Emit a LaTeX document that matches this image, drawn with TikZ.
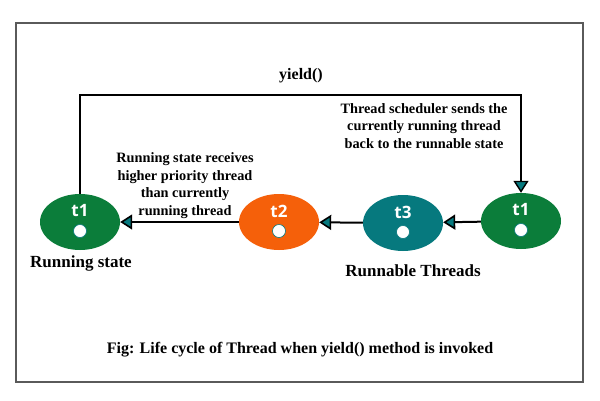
\documentclass[tikz,border=0pt]{standalone}
\usepackage{fontspec}
\setmainfont{Liberation Serif}
\newfontfamily\tfont{Open Sans}
\usetikzlibrary{arrows.meta,shapes.geometric}

\definecolor{MGreen}{HTML}{0B7D3A}
\definecolor{MOrange}{HTML}{F5600A}
\definecolor{MTeal}{HTML}{06797E}
\definecolor{MFrame}{HTML}{5A5A5A}

\begin{document}
\begin{tikzpicture}[x=1pt,y=-1pt,
		thread/.style={ellipse,minimum width=80pt,minimum height=56pt,inner sep=0pt,draw=none},
		tname/.style={text=white,font=\tfont\bfseries\fontsize{17}{17}\selectfont,inner sep=0pt},
		tdot/.style={circle,fill=white,draw=MTeal,line width=0.6pt,minimum size=13pt,inner sep=0pt},
		note/.style={align=center,font=\bfseries\fontsize{14.3}{17.5}\selectfont,inner sep=0pt},
		caption/.style={font=\bfseries\fontsize{17}{18}\selectfont,inner sep=0pt},
		move/.style={line width=2pt,-{Triangle[fill=MTeal,length=12pt,width=15pt,line width=1.6pt]}}]
			\useasboundingbox (0,0) rectangle (600,400);
			\draw[MFrame, line width=2pt] (16,23) rectangle (583,382);
			
			\node[thread, fill=MGreen] (run) at (80,222) {};
			\node[tname] (run-t) at ([yshift=11pt]run.center) {t1};
			\node[tdot] (run-dot) at ([yshift=-9pt]run.center) {};
			
			\node[thread, fill=MOrange] (q2) at (279,222) {};
			\node[tname] (q2-t) at ([yshift=11pt]q2.center) {t2};
			\node[tdot] (q2-dot) at ([yshift=-9pt]q2.center) {};
			
			\node[thread, fill=MTeal] (q3) at (403,223) {};
			\node[tname] (q3-t) at ([yshift=11pt]q3.center) {t3};
			\node[tdot] (q3-dot) at ([yshift=-9pt]q3.center) {};
			
			\node[thread, fill=MGreen] (q1) at (521,221) {};
			\node[tname] (q1-t) at ([yshift=11pt]q1.center) {t1};
			\node[tdot] (q1-dot) at ([yshift=-9pt]q1.center) {};
			
			\draw[move] (q1) -- (q3);
			\draw[move] (q3) -- (q2);
			\draw[move] (q2) -- (run);
			
			\coordinate (ytop) at (300,95);
			\draw[line width=1.5pt, -{Triangle[fill=MTeal,length=12pt,width=15pt,line width=1.4pt]}] (run.north) |- (ytop) -| (q1.north);
			
			\node[note, font=\bfseries\fontsize{16}{18}\selectfont] (yield) at (301,76) {yield()};
			\node[note] (sched) at (424,126) {Thread scheduler sends the\\currently running thread\\back to the runnable state};
			\node[note] (prio) at (185,185.5) {Running state receives\\higher priority thread\\than currently\\running thread};
			\node[caption] (run-l) at (81,263) {Running state};
			\node[caption] (runnable) at (413,271) {Runnable Threads};
			\node[note, font=\bfseries\fontsize{16}{18}\selectfont] (fig) at (300,350) {Fig: Life cycle of Thread when yield() method is invoked};
		\end{tikzpicture}
\end{document}
